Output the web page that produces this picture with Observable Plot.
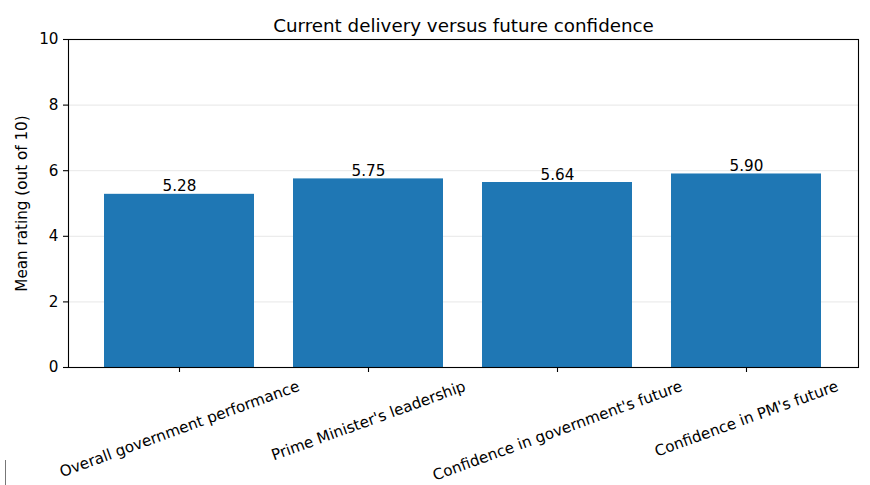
<!DOCTYPE html>
<html>
<head>
<meta charset="utf-8">
<script src="https://cdn.jsdelivr.net/npm/d3@7"></script>
<script src="https://cdn.jsdelivr.net/npm/@observablehq/plot@0.6"></script>
<style>
  html, body { margin: 0; padding: 0; background: #fff; }
  #chart { position: relative; width: 870px; height: 485px; }
  #chart svg { display: block; }
  #stray { position: absolute; left: 5px; top: 460px; width: 1px; height: 25px; background: #777; }
</style>
</head>
<body>
<div id="chart"><div id="stray"></div></div>
<script>
const categories = [
  "Overall government performance",
  "Prime Minister's leadership",
  "Confidence in government's future",
  "Confidence in PM's future"
];
const values = [5.28, 5.75, 5.64, 5.90];
const yTicks = [0, 2, 4, 6, 8, 10];
const title = "Current delivery versus future confidence";
const yLabel = "Mean rating (out of 10)";

const data = categories.map((c, i) => ({category: c, value: values[i]}));

const FONT = "DejaVu Sans";
const tickFs = 15.2;
const titleFs = 18.3;

// measure label widths to place rotated labels like matplotlib (bbox centred on tick)
const ctx = document.createElement("canvas").getContext("2d");
ctx.font = `${tickFs}px "${FONT}"`;
const rad = 20 * Math.PI / 180;
const lineH = tickFs * 1.17;
const xLabelMarks = categories.map((c) => {
  const w = ctx.measureText(c).width;
  const half = (w / 2) * Math.sin(rad) + (lineH / 2) * Math.cos(rad);
  return Plot.text([c], {
    x: (d) => d,
    frameAnchor: "bottom",
    rotate: -20,
    textAnchor: "middle",
    lineAnchor: "middle",
    dy: 5 + 4.9 + half,
    fontSize: tickFs,
    fill: "#000"
  });
});

const chart = Plot.plot({
  width: 870,
  height: 485,
  marginLeft: 68,
  marginRight: 12,
  marginTop: 39,
  marginBottom: 118,
  style: {fontFamily: FONT, fontSize: tickFs + "px", color: "#000", background: "#fff"},
  x: {domain: categories, paddingInner: 0.205, paddingOuter: 0.19, label: null},
  y: {domain: [0, 10], label: null},
  marks: [
    Plot.gridY(yTicks.slice(1, -1), {stroke: "#b0b0b0", strokeOpacity: 0.3, strokeWidth: 1}),
    Plot.barY(data, {x: "category", y: "value", fill: "#1f77b4"}),
    Plot.text(data, {
      x: "category", y: "value",
      text: (d) => d.value.toFixed(2),
      lineAnchor: "bottom", dy: -3,
      fontSize: tickFs, fill: "#000"
    }),
    Plot.axisY({ticks: yTicks, tickSize: 5, tickPadding: 5, label: null, fontSize: tickFs, stroke: "#000", strokeWidth: 1.1}),
    Plot.axisX({tickSize: 5, tickFormat: () => "", label: null, stroke: "#000", strokeWidth: 1.1}),
    Plot.frame({stroke: "#000", strokeWidth: 1.1}),
    ...xLabelMarks,
    Plot.text([yLabel], {
      frameAnchor: "left", rotate: -90, dx: -46,
      textAnchor: "middle", lineAnchor: "middle",
      fontSize: tickFs, fill: "#000"
    }),
    Plot.text([title], {
      frameAnchor: "top", dy: -7.5,
      textAnchor: "middle", lineAnchor: "bottom",
      fontSize: titleFs, fill: "#000"
    })
  ]
});

document.getElementById("chart").appendChild(chart);
</script>
</body>
</html>
